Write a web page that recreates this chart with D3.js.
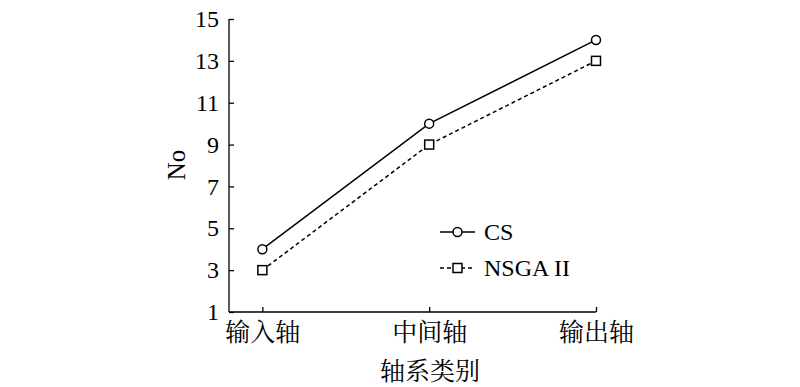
<!DOCTYPE html>
<html><head><meta charset="utf-8">
<script src="https://cdn.jsdelivr.net/npm/d3@7"></script>
<style>body{margin:0;background:#fff}</style>
</head><body>
<script>
const categories = ["输入轴", "中间轴", "输出轴"];
const csValues = [4, 10, 14];
const nsgaValues = [3, 9, 13];
const yTicks = [1, 3, 5, 7, 9, 11, 13, 15];
const seriesNames = ["CS", "NSGA II"];

const W = 800, H = 387;
const svg = d3.select("body").append("svg").attr("width", W).attr("height", H);
const LAT = '"Liberation Serif"';
const CN = '"Noto Serif CJK SC"';

const x = d3.scaleLinear().domain([0.8, 3]).range([229, 596]);
const y = d3.scaleLinear().domain([1, 15]).range([312, 19]);

const line = d3.line().x((d, i) => x(i + 1)).y(d => y(d));

// CS
svg.append("path").datum(csValues).attr("d", line).attr("fill", "none")
  .attr("stroke", "#000").attr("stroke-width", 1.5);
svg.selectAll(".cs").data(csValues).enter().append("circle")
  .attr("cx", (d, i) => x(i + 1)).attr("cy", d => y(d)).attr("r", 4.5)
  .attr("fill", "#fff").attr("stroke", "#000").attr("stroke-width", 1.5);

// NSGA II
svg.append("path").datum(nsgaValues).attr("d", line).attr("fill", "none")
  .attr("stroke", "#000").attr("stroke-width", 1.5).attr("stroke-dasharray", "4,3");
svg.selectAll(".ns").data(nsgaValues).enter().append("rect")
  .attr("x", (d, i) => x(i + 1) - 4.5).attr("y", d => y(d) - 4.5).attr("width", 9).attr("height", 9)
  .attr("fill", "#fff").attr("stroke", "#000").attr("stroke-width", 1.5);

// axes
const yAxis = d3.axisLeft(y).tickValues(yTicks).tickSize(-5).tickPadding(10).tickFormat(d3.format("d"));
const gy = svg.append("g").attr("transform", "translate(229,0)").call(yAxis);
gy.attr("font-family", null).attr("font-size", null);
gy.select(".domain").attr("d", `M0,${y(15)}V${y(1)}`);
gy.selectAll("text").style("font-family", LAT).style("font-size", "24px").attr("fill", "#000");
gy.selectAll("line,path").attr("stroke", "#000").attr("stroke-width", 1.3);

const xAxis = d3.axisBottom(x).tickValues([1, 2, 3]).tickSize(-5).tickPadding(11)
  .tickFormat(d => categories[d - 1]);
const gx = svg.append("g").attr("transform", `translate(0,${y(1)})`).call(xAxis);
gx.attr("font-family", null).attr("font-size", null);
gx.select(".domain").attr("d", `M229,0H596`);
gx.selectAll("text").style("font-family", CN).style("font-size", "25px").attr("fill", "#000");
gx.selectAll("line,path").attr("stroke", "#000").attr("stroke-width", 1.3);

// axis titles
svg.append("text").attr("transform", "translate(185,165) rotate(-90)")
  .attr("text-anchor", "middle").style("font-family", LAT).style("font-size", "25px").text("No");
svg.append("text").attr("x", 430).attr("y", 380).attr("text-anchor", "middle")
  .style("font-family", CN).style("font-size", "25px").text("轴系类别");

// legend
const lg = svg.append("g");
const ly = [232, 268];
lg.append("line").attr("x1", 440).attr("x2", 475).attr("y1", ly[0]).attr("y2", ly[0])
  .attr("stroke", "#000").attr("stroke-width", 1.5);
lg.append("circle").attr("cx", 457.5).attr("cy", ly[0]).attr("r", 4.5)
  .attr("fill", "#fff").attr("stroke", "#000").attr("stroke-width", 1.5);
lg.append("line").attr("x1", 440).attr("x2", 475).attr("y1", ly[1]).attr("y2", ly[1])
  .attr("stroke", "#000").attr("stroke-width", 1.5).attr("stroke-dasharray", "4,3");
lg.append("rect").attr("x", 453).attr("y", ly[1] - 4.5).attr("width", 9).attr("height", 9)
  .attr("fill", "#fff").attr("stroke", "#000").attr("stroke-width", 1.5);
seriesNames.forEach((n, i) => {
  lg.append("text").attr("x", 484).attr("y", ly[i] + 8).style("font-family", LAT)
    .style("font-size", "24px").text(n);
});
svg.selectAll("text").each(function () { getComputedStyle(this).fontFamily; });
</script>
</body></html>
